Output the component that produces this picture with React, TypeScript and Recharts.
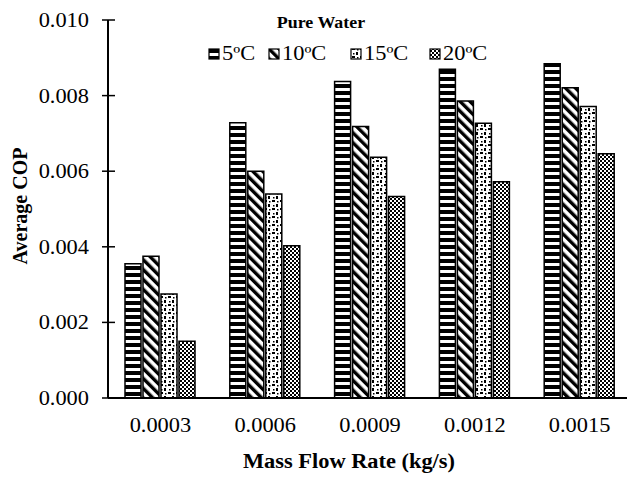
import { BarChart, Bar, XAxis, YAxis, Legend, Label } from 'recharts';

const flowRates = ['0.0003', '0.0006', '0.0009', '0.0012', '0.0015'];
const cop5 = [0.00355, 0.00728, 0.00837, 0.0087, 0.00884];
const cop10 = [0.00375, 0.006, 0.00718, 0.00786, 0.00821];
const cop15 = [0.00275, 0.0054, 0.00637, 0.00727, 0.00771];
const cop20 = [0.0015, 0.00403, 0.00533, 0.00572, 0.00646];
const copTicks = [0, 0.002, 0.004, 0.006, 0.008, 0.01];

const seriesNames = ['5ºC', '10ºC', '15ºC', '20ºC'];
const patternIds = ['hatch5', 'hatch10', 'hatch15', 'hatch20'];

const data = flowRates.map((rate, i) => ({
  rate,
  [seriesNames[0]]: cop5[i],
  [seriesNames[1]]: cop10[i],
  [seriesNames[2]]: cop15[i],
  [seriesNames[3]]: cop20[i],
}));

const FONT = '"Liberation Serif", "Times New Roman", serif';
// serif text in this chart runs a little wide
const SX = 1.12;

function Patterns() {
  return (
    <defs>
      <pattern id="hatch5" patternUnits="userSpaceOnUse" width={8} height={7}>
        <rect width={8} height={7} fill="#fff" />
        <rect width={8} height={4} fill="#000" />
      </pattern>
      <pattern id="hatch10" patternUnits="userSpaceOnUse" width={7} height={7} patternTransform="rotate(-45)">
        <rect width={7} height={7} fill="#fff" />
        <rect width={3.4} height={7} fill="#000" />
      </pattern>
      <pattern id="hatch15" patternUnits="userSpaceOnUse" width={8} height={8}>
        <rect width={8} height={8} fill="#fff" />
        <rect x={0} y={0} width={3} height={2} fill="#000" />
        <rect x={4} y={4} width={2} height={3} fill="#000" />
        <rect x={5} y={1} width={1.5} height={1.5} fill="#000" />
        <rect x={1} y={5} width={1.5} height={1.5} fill="#000" />
      </pattern>
      <pattern id="hatch20" patternUnits="userSpaceOnUse" width={4} height={4}>
        <rect width={4} height={4} fill="#fff" />
        <rect x={0} y={0} width={2} height={2} fill="#000" />
        <rect x={2} y={2} width={2} height={2} fill="#000" />
      </pattern>
    </defs>
  );
}

function CopTick({ x, y, payload }: any) {
  return (
    <g>
      <line x1={x - 6} x2={x + 7} y1={y} y2={y} stroke="#000" strokeWidth={1.5} />
      <text
        transform={`translate(${x - 19},${y}) scale(${SX},1)`}
        textAnchor="end"
        dy="0.35em"
        fontSize={20}
        fontFamily={FONT}
        fill="#000"
      >
        {Number(payload.value).toFixed(3)}
      </text>
    </g>
  );
}

function RateTick({ x, y, payload }: any) {
  return (
    <text
      transform={`translate(${x},${y + 34}) scale(${SX},1)`}
      textAnchor="middle"
      fontSize={20}
      fontFamily={FONT}
      fill="#000"
    >
      {payload.value}
    </text>
  );
}

function LegendBox() {
  const itemX = [209, 269, 351, 430];
  return (
    <svg width={627} height={70} style={{ display: 'block' }}>
      <text
        transform={`translate(321,28) scale(${SX},1)`}
        textAnchor="middle"
        fontSize={16}
        fontWeight="bold"
        fontFamily={FONT}
        fill="#000"
      >
        Pure Water
      </text>
      {seriesNames.map((name, i) => (
        <g key={name}>
          <rect
            x={itemX[i]}
            y={49}
            width={10}
            height={10}
            fill={`url(#${patternIds[i]})`}
            stroke="#000"
            strokeWidth={1.2}
          />
          <text
            transform={`translate(${itemX[i] + 13},60) scale(${SX},1)`}
            fontSize={20}
            fontFamily={FONT}
            fill="#000"
          >
            {name}
          </text>
        </g>
      ))}
    </svg>
  );
}

export default function App() {
  return (
    <div style={{ position: 'absolute', left: 0, top: 0, width: 627, height: 478, overflow: 'hidden', background: '#fff' }}>
      <BarChart
        width={632}
        height={478}
        data={data}
        margin={{ top: 20, right: 0, bottom: 0, left: 0 }}
        barCategoryGap={17}
        barGap={2}
      >
        <Patterns />
        <XAxis
          dataKey="rate"
          axisLine={{ stroke: '#000', strokeWidth: 2 }}
          tickLine={false}
          tickSize={0}
          tickMargin={0}
          tick={<RateTick />}
          height={80}
        >
          <Label
            content={() => (
              <text
                transform={`translate(349,468) scale(${SX},1)`}
                textAnchor="middle"
                fontSize={20}
                fontWeight="bold"
                fontFamily={FONT}
                fill="#000"
              >
                Mass Flow Rate (kg/s)
              </text>
            )}
          />
        </XAxis>
        <YAxis
          width={108}
          domain={[0, 0.01]}
          ticks={copTicks}
          interval={0}
          axisLine={{ stroke: '#000', strokeWidth: 2 }}
          tickLine={false}
          tickSize={0}
          tickMargin={0}
          tick={<CopTick />}
        >
          <Label
            content={() => (
              <text
                transform="translate(27,206) rotate(-90)"
                textAnchor="middle"
                fontSize={20}
                fontWeight="bold"
                fontFamily={FONT}
                fill="#000"
              >
                Average COP
              </text>
            )}
          />
        </YAxis>
        <Legend
          verticalAlign="middle"
          wrapperStyle={{ top: 0, left: 0, width: 627 }}
          content={<LegendBox />}
        />
        {seriesNames.map((name, i) => (
          <Bar
            key={name}
            dataKey={name}
            fill={`url(#${patternIds[i]})`}
            stroke="#000"
            strokeWidth={1.5}
            isAnimationActive={false}
          />
        ))}
      </BarChart>
    </div>
  );
}
